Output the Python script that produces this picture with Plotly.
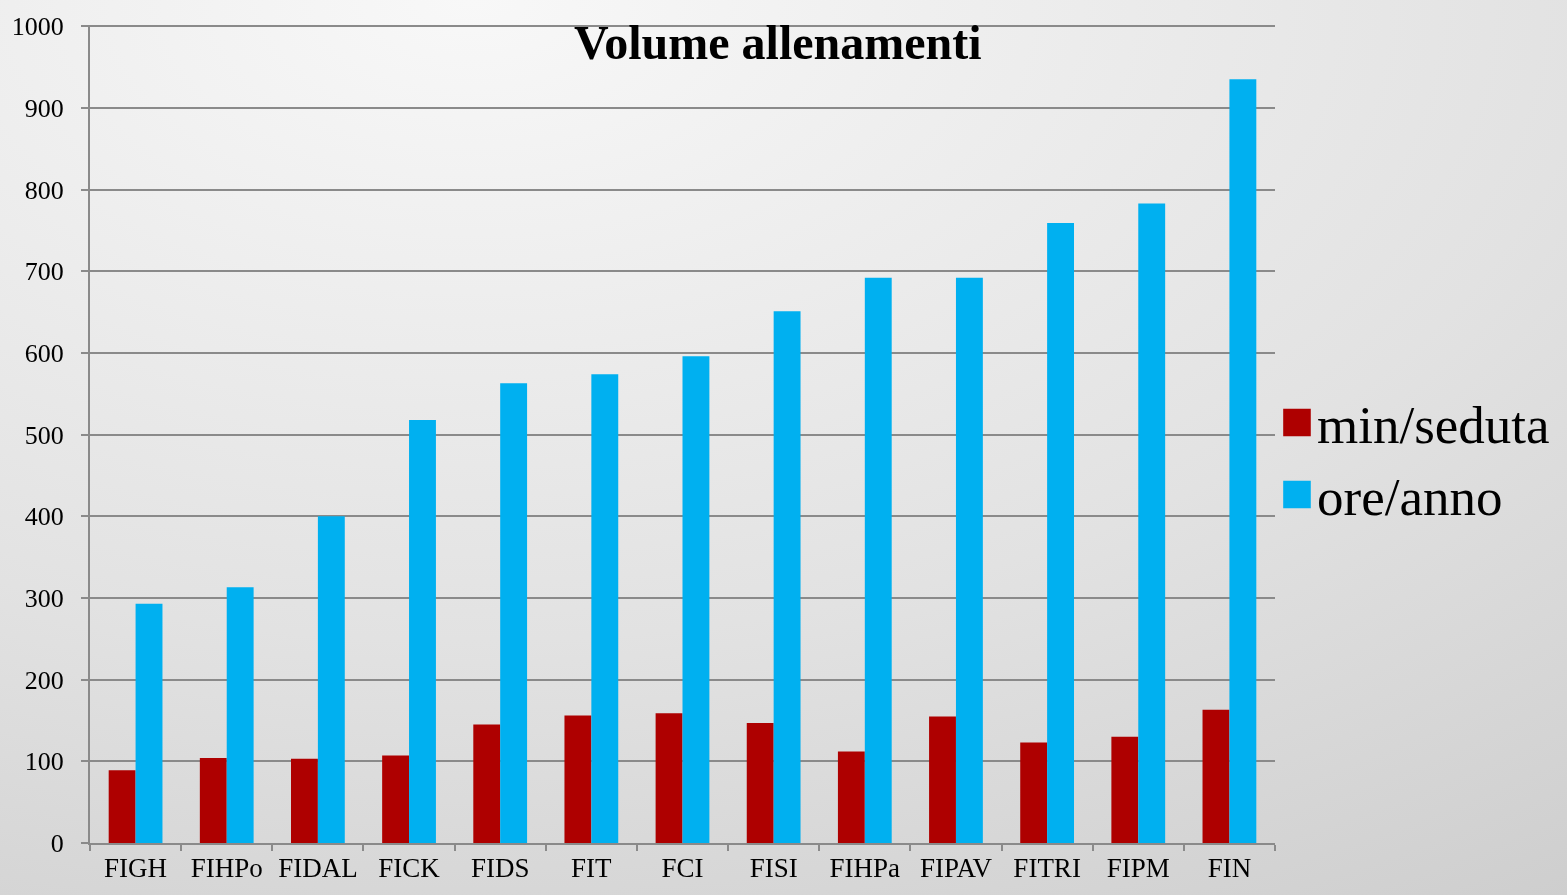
import plotly.graph_objects as go

categories = ["FIGH", "FIHPo", "FIDAL", "FICK", "FIDS", "FIT", "FCI", "FISI",
              "FIHPa", "FIPAV", "FITRI", "FIPM", "FIN"]
min_seduta = [89, 104, 103, 107, 145, 156, 159, 147, 112, 155, 123, 130, 163]
ore_anno = [293, 313, 400, 518, 563, 574, 596, 651, 692, 692, 759, 783, 935]
y_ticks = [0, 100, 200, 300, 400, 500, 600, 700, 800, 900, 1000]

W, H = 1567, 895
L, R, T, B = 90, 285, 20, 43
PW, PH = W - L - R, H - T - B
FONT = "Liberation Serif, Times New Roman, serif"

fig = go.Figure()
fig.add_trace(go.Bar(name="min/seduta", x=categories, y=min_seduta,
                     marker=dict(color="#AE0000", line=dict(width=0))))
fig.add_trace(go.Bar(name="ore/anno", x=categories, y=ore_anno,
                     marker=dict(color="#00B0F0", line=dict(width=0))))

fig.update_layout(
    autosize=True,
    margin=dict(l=L, r=R, t=T, b=B, pad=0),
    paper_bgcolor="rgba(0,0,0,0)",
    plot_bgcolor="rgba(0,0,0,0)",
    barmode="group", bargap=0.41, bargroupgap=0,
    font=dict(family=FONT, color="black"),
    showlegend=True,
    legend=dict(x=(1284 - L) / PW, y=(H - B - 461) / PH, xanchor="left", yanchor="middle",
                font=dict(size=53, family=FONT, color="black"),
                bgcolor="rgba(0,0,0,0)", tracegroupgap=0, itemwidth=30),
    annotations=[dict(text="<b>Volume allenamenti</b>", xref="paper", yref="paper",
                      x=(782 - L) / PW, y=(H - B - 38) / PH, xanchor="center", yanchor="middle",
                      showarrow=False, font=dict(size=48, family=FONT, color="black"))],
)

fig.update_xaxes(
    showline=True, linecolor="#8a8a8a", linewidth=2,
    ticks="outside", ticklen=6, tickwidth=2, tickcolor="#8a8a8a",
    tickson="boundaries", showgrid=False,
    tickfont=dict(size=27, family=FONT, color="black"),
)
fig.update_yaxes(
    range=[0, 1001.5], tickvals=y_ticks,
    showline=True, linecolor="#8a8a8a", linewidth=2,
    ticks="outside", ticklen=7, tickwidth=2, tickcolor="#8a8a8a",
    showgrid=True, gridcolor="#8a8a8a", gridwidth=2,
    zeroline=False,
    tickfont=dict(size=26, family=FONT, color="black"),
    ticklabelstandoff=12,
)

post = (
    "var bg='radial-gradient(ellipse 130% 130% at 30% 0%, #f8f8f8 0%, #e2e2e2 55%, #cbcbcb 100%)';"
    "document.documentElement.style.margin='0';document.documentElement.style.height='100%';"
    "document.documentElement.style.background=bg;"
    "document.body.style.margin='0';document.body.style.overflow='hidden';"
    "document.body.style.height='100%';document.body.style.background=bg;"
    "var gd=document.getElementById('{plot_id}');"
    "gd.style.position='fixed';gd.style.top='0px';gd.style.left='0px';"
    "function bigKeys(){gd.querySelectorAll('.legendpoints path').forEach(function(p){"
    "var t=p.getAttribute('transform')||'';if(t.indexOf('scale')<0){"
    "p.setAttribute('transform',t+' scale(2.3)');}});}"
    "bigKeys();gd.on('plotly_afterplot',bigKeys);"
)
fig.write_html("out.html", config={"displayModeBar": False, "responsive": True},
               default_width="100vw", default_height="100vh", post_script=post)
